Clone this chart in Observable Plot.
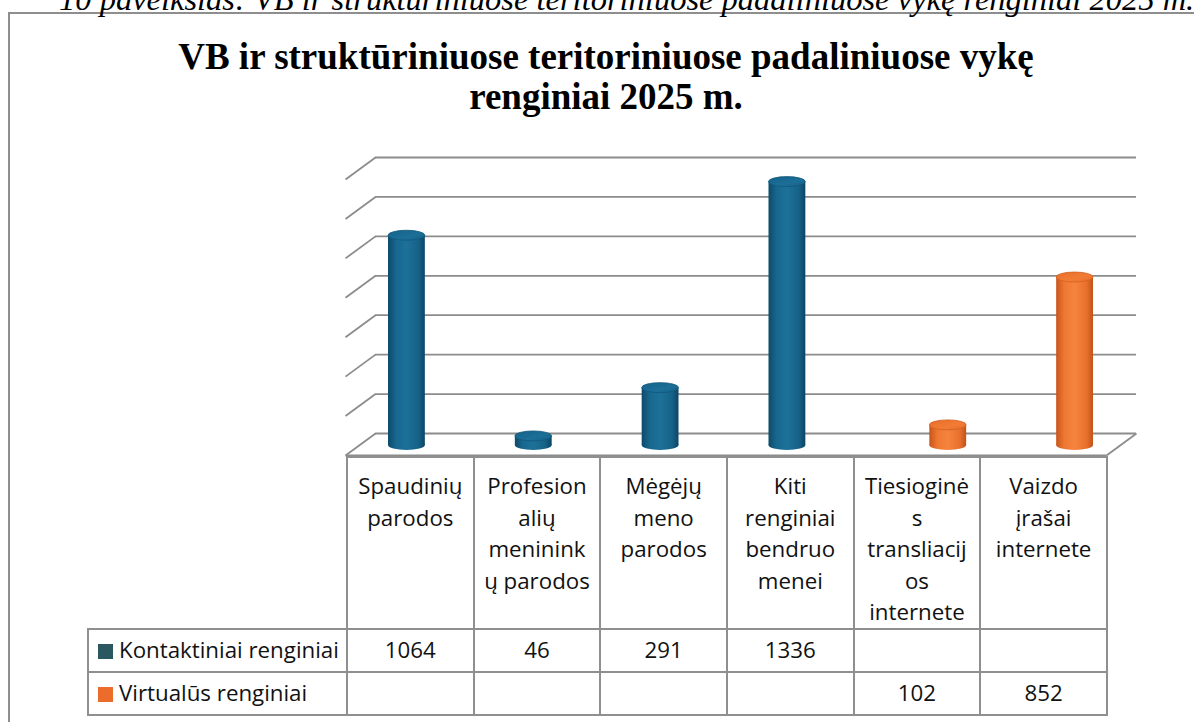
<!DOCTYPE html>
<html>
<head>
<meta charset="utf-8">
<script src="https://cdn.jsdelivr.net/npm/d3@7"></script>
<script src="https://cdn.jsdelivr.net/npm/@observablehq/plot@0.6"></script>
<style>
  html, body { margin: 0; padding: 0; background: #fff; overflow: hidden; }
  #wrap { position: relative; width: 1194px; height: 722px; overflow: hidden; background: #fff; }
  #caption { position: absolute; left: 59px; top: -17px; font: italic 32.5px/32.5px "Liberation Serif", serif; white-space: nowrap; color: #000; }
  #frame { position: absolute; left: 8px; top: 12px; width: 1210px; height: 740px; border: 2px solid #8e8e8e; box-sizing: border-box; }
  #title { position: absolute; left: 0; width: 1212px; top: 37px; text-align: center; font: bold 37px/40px "Liberation Serif", serif; color: #000; }
  #chart { position: absolute; left: 0; top: 0; }
  #table { position: absolute; left: 87px; top: 456px; border-collapse: collapse; table-layout: fixed; font-family: "Open Sans", sans-serif; font-size: 22.3px; color: #111; }
  #table td { border: 2px solid #8f8f8f; padding: 0; text-align: center; }
  #table td.blank { border: none; }
  #table tr.head td { vertical-align: top; height: 169px; line-height: 31.5px; padding-top: 12px; box-sizing: border-box; }
  #table tr.val td { height: 41px; line-height: 38px; vertical-align: middle; }
  #table td.leg { text-align: left; padding-left: 9px; white-space: nowrap; }
  .sw { display: inline-block; width: 15px; height: 15px; margin-right: 6px; vertical-align: -1px; }
</style>
</head>
<body>
<svg width="0" height="0" style="position:absolute">
  <defs>
    <linearGradient id="gBlue" x1="0" x2="1" y1="0" y2="0">
      <stop offset="0" stop-color="#0d4a6a"/>
      <stop offset="0.22" stop-color="#18678f"/>
      <stop offset="0.5" stop-color="#1d7199"/>
      <stop offset="0.82" stop-color="#166288"/>
      <stop offset="1" stop-color="#0c4565"/>
    </linearGradient>
    <linearGradient id="gBlueTop" x1="0" x2="1" y1="0" y2="1">
      <stop offset="0" stop-color="#14628a"/>
      <stop offset="0.6" stop-color="#1c6f97"/>
      <stop offset="1" stop-color="#155f86"/>
    </linearGradient>
    <linearGradient id="gOrange" x1="0" x2="1" y1="0" y2="0">
      <stop offset="0" stop-color="#c8551a"/>
      <stop offset="0.22" stop-color="#ee7832"/>
      <stop offset="0.5" stop-color="#f5843e"/>
      <stop offset="0.82" stop-color="#e9712d"/>
      <stop offset="1" stop-color="#c25217"/>
    </linearGradient>
    <linearGradient id="gOrangeTop" x1="0" x2="1" y1="0" y2="1">
      <stop offset="0" stop-color="#e66d2a"/>
      <stop offset="0.6" stop-color="#f27c36"/>
      <stop offset="1" stop-color="#e36a28"/>
    </linearGradient>
  </defs>
</svg>
<div id="wrap">
  <div id="frame"></div>
  <div id="caption"></div>
  <div id="title"></div>
  <div id="chart"></div>
  <table id="table"></table>
</div>
<script>
// ---------- data ----------
const captionText = "10 paveikslas: VB ir struktūriniuose teritoriniuose padaliniuose vykę renginiai 2025 m.";
const titleLines = ["VB ir struktūriniuose teritoriniuose padaliniuose vykę", "renginiai 2025 m."];
const categories = [
  "Spaudinių parodos",
  "Profesionalių menininkų parodos",
  "Mėgėjų meno parodos",
  "Kiti renginiai bendruomenei",
  "Tiesioginės transliacijos internete",
  "Vaizdo įrašai internete"
];
const categoryLines = [
  ["Spaudinių", "parodos"],
  ["Profesion", "alių", "meninink", "ų parodos"],
  ["Mėgėjų", "meno", "parodos"],
  ["Kiti", "renginiai", "bendruo", "menei"],
  ["Tiesioginė", "s", "transliacij", "os", "internete"],
  ["Vaizdo", "įrašai", "internete"]
];
const seriesNames = ["Kontaktiniai renginiai", "Virtualūs renginiai"];
const kontaktiniai = [1064, 46, 291, 1336, null, null];
const virtualus = [null, null, null, null, 102, 852];
const yTicks = [0, 200, 400, 600, 800, 1000, 1200, 1400];

// ---------- styles ----------
const seriesStyle = {
  "Kontaktiniai renginiai": {body: "url(#gBlue)", top: "url(#gBlueTop)", stroke: "#12587c", swatch: "#2b5761", insetLeft: 28, insetRight: 62},
  "Virtualūs renginiai": {body: "url(#gOrange)", top: "url(#gOrangeTop)", stroke: "#d4601f", swatch: "#ec6c2b", insetLeft: 62, insetRight: 28}
};

// ---------- build rows ----------
const seriesValues = [kontaktiniai, virtualus];
const rows = [];
seriesNames.forEach((s, k) => seriesValues[k].forEach((v, i) => {
  if (v != null) rows.push({series: s, i, category: categories[i], value: v});
}));

// ---------- geometry ----------
const W = 1194, H = 470;
const M = {left: 375, right: 58, top: 157, bottom: 37};
const yMax = 1400, nCat = categories.length;
const depthPx = {dx: 30, dy: 22};
const kx = nCat / (W - M.left - M.right);
const ky = yMax / (H - M.top - M.bottom);
const fdx = depthPx.dx * kx, fdy = depthPx.dy * ky;

const wallEdges = yTicks.map(v => ({x1: 0, y1: v, x2: -fdx, y2: v - fdy}));
const floorEdges = [
  {x1: -fdx, y1: -fdy, x2: nCat - fdx, y2: -fdy},
  {x1: nCat, y1: 0, x2: nCat - fdx, y2: -fdy}
];

const gridStyle = {stroke: "#8c8c8c", strokeWidth: 1.8};
const mid = {dx: -15, dy: 12};
const ell = 5;

const marks = [
  Plot.ruleY(yTicks, {y: d => d, ...gridStyle}),
  Plot.link(wallEdges, {x1: "x1", y1: "y1", x2: "x2", y2: "y2", ...gridStyle}),
  Plot.link(floorEdges, {x1: "x1", y1: "y1", x2: "x2", y2: "y2", ...gridStyle})
];

for (const s of seriesNames) {
  const st = seriesStyle[s];
  const data = rows.filter(d => d.series === s);
  const common = {x1: d => d.i, x2: d => d.i + 1, insetLeft: st.insetLeft, insetRight: st.insetRight, dx: mid.dx, dy: mid.dy};
  marks.push(
    Plot.rect(data, {...common, y1: 0, y2: 0, insetTop: -ell, insetBottom: -ell, rx: 18.5, ry: ell, fill: st.body}),
    Plot.rect(data, {...common, y1: 0, y2: d => d.value, fill: st.body}),
    Plot.rect(data, {...common, y1: d => d.value, y2: d => d.value, insetTop: -ell, insetBottom: -ell, rx: 18.5, ry: ell, fill: st.top, stroke: st.stroke, strokeWidth: 0.8})
  );
}

const chart = Plot.plot({
  width: W,
  height: H,
  marginLeft: M.left,
  marginRight: M.right,
  marginTop: M.top,
  marginBottom: M.bottom,
  x: {type: "linear", domain: [0, nCat], axis: null},
  y: {type: "linear", domain: [0, yMax], axis: null},
  style: {background: "transparent", overflow: "visible"},
  marks
});
document.getElementById("chart").appendChild(chart);

// ---------- texts ----------
document.getElementById("caption").textContent = captionText;
const title = d3.select("#title");
titleLines.forEach(l => title.append("div").text(l));

// ---------- data table ----------
const table = d3.select("#table");
const cg = table.append("colgroup");
cg.append("col").style("width", "259px");
categories.forEach(() => cg.append("col").style("width", ((1106 - 346) / nCat) + "px"));
const head = table.append("tr").attr("class", "head");
head.append("td").attr("class", "blank");
categoryLines.forEach(lines => head.append("td").html(lines.map(l => l.replace(/&/g, "&amp;")).join("<br>")));
seriesNames.forEach((s, k) => {
  const tr = table.append("tr").attr("class", "val");
  const leg = tr.append("td").attr("class", "leg");
  leg.append("span").attr("class", "sw").style("background", seriesStyle[s].swatch);
  leg.append("span").text(s);
  seriesValues[k].forEach(v => tr.append("td").text(v == null ? "" : v));
});
</script>
</body>
</html>
